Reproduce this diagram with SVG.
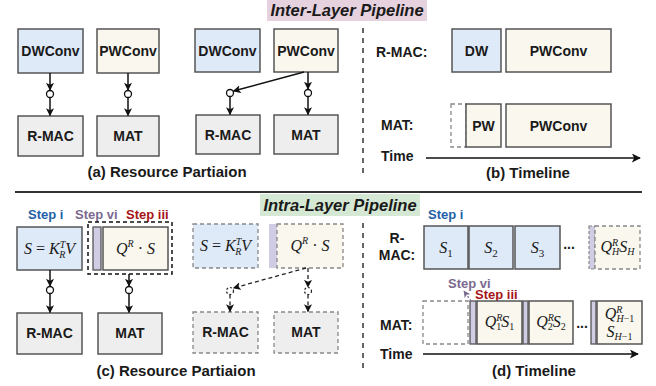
<svg xmlns="http://www.w3.org/2000/svg" width="656" height="386" viewBox="0 0 656 386">
<style>
.lbl{font-family:"Liberation Sans",Arial,sans-serif;font-weight:bold;font-size:14px;fill:#1a1a1a;text-anchor:middle}
.lbs{font-family:"Liberation Sans",Arial,sans-serif;font-weight:bold;font-size:14px;fill:#1a1a1a}
.cap{font-family:"Liberation Sans",Arial,sans-serif;font-weight:bold;font-size:15px;fill:#1a1a1a;text-anchor:middle}
.ttl{font-family:"Liberation Sans",Arial,sans-serif;font-weight:bold;font-style:italic;font-size:16.5px;fill:#1a1a1a;text-anchor:middle}
.step{font-family:"Liberation Sans",Arial,sans-serif;font-weight:bold;font-size:13px}
.math{font-family:"Liberation Serif","Times New Roman",serif;font-style:italic;font-size:16px;fill:#1a1a1a;text-anchor:middle}
.up{font-style:normal}
.blue{fill:#dfeaf9;stroke:#555;stroke-width:1.5}
.beige{fill:#f9f7ee;stroke:#555;stroke-width:1.5}
.gray{fill:#eeeeee;stroke:#555;stroke-width:1.5}
.bar{fill:#cfcce3;stroke:#555;stroke-width:1.3}
.dash{stroke:#888;stroke-width:1.3;stroke-dasharray:4 3}
.conn{stroke:#111;stroke-width:1.5;fill:none}
.dconn{stroke:#222;stroke-width:1.3;fill:none;stroke-dasharray:4 3}
.dot{fill:#fff;stroke:#111;stroke-width:1.3}
.vdash{stroke:#333;stroke-width:1.5;stroke-dasharray:5 5}
</style>
<defs>
<marker id="ah" viewBox="0 0 10 10" refX="9" refY="5" markerWidth="8" markerHeight="8" orient="auto" markerUnits="userSpaceOnUse">
<path d="M0,0 L10,5 L0,10 L2.5,5 z" fill="#111"/>
</marker>
<marker id="ahb" viewBox="0 0 10 10" refX="9" refY="5" markerWidth="9" markerHeight="9" orient="auto" markerUnits="userSpaceOnUse">
<path d="M0,0 L10,5 L0,10 L2.5,5 z" fill="#111"/>
</marker>
<marker id="ahp" viewBox="0 0 10 10" refX="9" refY="5" markerWidth="7" markerHeight="7" orient="auto" markerUnits="userSpaceOnUse">
<path d="M0,0 L10,5 L0,10 L2.5,5 z" fill="#7b6a8f"/>
</marker>
</defs>
<rect width="656" height="386" fill="#fff"/>

<!-- banners -->
<g id="inter-title">
<rect x="267" y="0" width="160" height="21" fill="#e6d1de"/>
<text class="ttl" x="347" y="16">Inter-Layer Pipeline</text>
</g>
<g id="intra-title">
<rect x="260" y="194" width="160" height="22" fill="#d5e8d4"/>
<text class="ttl" x="340" y="211">Intra-Layer Pipeline</text>
</g>

<!-- dividers -->
<g id="dividers">
<line x1="15" y1="192" x2="642" y2="192" stroke="#333" stroke-width="2"/>
<line class="vdash" x1="363" y1="28" x2="363" y2="176"/>
<line class="vdash" x1="363" y1="223" x2="363" y2="368"/>
</g>

<!-- (a) -->
<g id="a-dwconv"><rect class="blue" x="18" y="29" width="65" height="44"/><text class="lbl" x="50.5" y="56">DWConv</text></g>
<g id="a-pwconv"><rect class="beige" x="97" y="29" width="62" height="44"/><text class="lbl" x="128" y="56">PWConv</text></g>
<g id="a-rmac"><rect class="gray" x="18" y="116" width="65" height="40"/><text class="lbl" x="50.5" y="141">R-MAC</text></g>
<g id="a-mat"><rect class="gray" x="97" y="116" width="62" height="40"/><text class="lbl" x="128" y="141">MAT</text></g>
<g id="a2-dwconv"><rect class="blue" x="195" y="29" width="65" height="43"/><text class="lbl" x="227.5" y="56">DWConv</text></g>
<g id="a2-pwconv"><rect class="beige" x="274" y="29" width="64" height="43"/><text class="lbl" x="306" y="56">PWConv</text></g>
<g id="a2-rmac"><rect class="gray" x="196" y="115" width="64" height="39"/><text class="lbl" x="228" y="140">R-MAC</text></g>
<g id="a2-mat"><rect class="gray" x="274" y="115" width="64" height="39"/><text class="lbl" x="306" y="140">MAT</text></g>
<text class="cap" x="167" y="177">(a) Resource Partiaion</text>

<!-- (b) -->
<text class="lbs" x="376" y="57">R-MAC:</text>
<text class="lbs" x="381" y="130">MAT:</text>
<text class="lbs" x="381" y="161">Time</text>
<g id="b-dw"><rect class="blue" x="452" y="29" width="49" height="43"/><text class="lbl" x="476.5" y="56">DW</text></g>
<g id="b-pwconv1"><rect class="beige" x="506" y="29" width="105" height="43"/><text class="lbl" x="558.5" y="56">PWConv</text></g>
<g id="b-empty"><rect class="dash" fill="#fff" x="451" y="104" width="15" height="43"/></g>
<g id="b-pw"><rect class="beige" x="466" y="104" width="35" height="43"/><text class="lbl" x="483.5" y="131">PW</text></g>
<g id="b-pwconv2"><rect class="beige" x="506" y="104" width="105" height="43"/><text class="lbl" x="558.5" y="131">PWConv</text></g>
<text class="cap" x="528" y="178">(b) Timeline</text>

<!-- (c) -->
<text class="step" x="28" y="219" fill="#1f5fa8">Step i</text>
<text class="step" x="75" y="219" fill="#7b6a8f">Step vi</text>
<text class="step" x="126" y="219" fill="#a51518">Step iii</text>
<g id="c-s"><rect class="blue" x="17" y="227" width="65" height="43"/>
<text class="math" x="49.5" y="254">S <tspan class="up">=</tspan> K<tspan font-size="10" dy="-6">T</tspan><tspan font-size="10" dx="-6" dy="10">R</tspan><tspan dy="-4">V</tspan></text></g>
<g id="c-group"><rect x="88" y="222" width="84" height="52" fill="none" stroke="#111" stroke-width="1.5" stroke-dasharray="4 3"/>
<rect class="bar" x="93" y="227" width="8" height="43"/>
<rect class="beige" x="103" y="227" width="65" height="43"/>
<text class="math" x="135.5" y="254">Q<tspan font-size="10" dy="-7">R</tspan><tspan dy="7" class="up"> · </tspan>S</text></g>
<g id="c-rmac"><rect class="gray" x="17" y="313" width="65" height="41"/><text class="lbl" x="49.5" y="338">R-MAC</text></g>
<g id="c-mat"><rect class="gray" x="98" y="313" width="64" height="41"/><text class="lbl" x="130" y="338">MAT</text></g>
<g id="c2-s"><rect class="dash" fill="#dfeaf9" x="193" y="224" width="65" height="44"/>
<text class="math" x="225.5" y="251">S <tspan class="up">=</tspan> K<tspan font-size="10" dy="-6">T</tspan><tspan font-size="10" dx="-6" dy="10">R</tspan><tspan dy="-4">V</tspan></text></g>
<g id="c2-q"><rect x="269" y="224" width="8" height="44" fill="#cfcce3"/>
<rect class="dash" fill="#f9f7ee" x="277" y="224" width="66" height="44"/>
<text class="math" x="310" y="251">Q<tspan font-size="10" dy="-7">R</tspan><tspan dy="7" class="up"> · </tspan>S</text></g>
<g id="c2-rmac"><rect class="dash" fill="#eeeeee" x="193" y="312" width="65" height="41"/><text class="lbl" x="225.5" y="337">R-MAC</text></g>
<g id="c2-mat"><rect class="dash" fill="#eeeeee" x="274" y="312" width="64" height="41"/><text class="lbl" x="306" y="337">MAT</text></g>
<text class="cap" x="176" y="376">(c) Resource Partiaion</text>

<!-- (d) -->
<text class="step" x="428" y="219" fill="#1f5fa8">Step i</text>
<text class="lbl" x="397" y="243">R-</text>
<text class="lbl" x="397" y="260">MAC:</text>
<text class="lbs" x="380" y="330">MAT:</text>
<text class="lbs" x="380" y="359">Time</text>
<g id="d-s1"><rect class="blue" x="424" y="226" width="44" height="43"/><text class="math" x="446" y="253">S<tspan class="up" font-size="11" dy="4">1</tspan></text></g>
<g id="d-s2"><rect class="blue" x="469" y="226" width="44" height="43"/><text class="math" x="491" y="253">S<tspan class="up" font-size="11" dy="4">2</tspan></text></g>
<g id="d-s3"><rect class="blue" x="515" y="226" width="45" height="43"/><text class="math" x="537.5" y="253">S<tspan class="up" font-size="11" dy="4">3</tspan></text></g>
<text class="lbl" x="569" y="249">...</text>
<g id="d-qh"><rect x="589" y="226" width="6" height="43" fill="#cfcce3" stroke="#888" stroke-width="1.2" stroke-dasharray="3 2"/>
<rect class="dash" fill="#f9f7ee" x="595" y="226" width="45" height="43"/>
<text class="math" x="617.5" y="252" font-size="15">Q<tspan font-size="10" dy="-6">R</tspan><tspan font-size="10" dx="-6" dy="9">H</tspan><tspan dy="-3">S</tspan><tspan font-size="10" dy="3">H</tspan></text></g>
<text class="step" x="448" y="288" fill="#7b6a8f">Step vi</text>
<text class="step" x="475" y="299" fill="#a51518">Step iii</text>
<g id="d-empty"><rect class="dash" fill="#fff" x="423" y="301" width="45" height="43"/></g>
<g id="d-q1"><rect class="bar" x="470" y="301" width="6" height="43"/><rect class="beige" x="477" y="301" width="45" height="43"/>
<text class="math" x="499.5" y="327" font-size="15">Q<tspan font-size="10" dy="-6">R</tspan><tspan class="up" font-size="10" dx="-6" dy="9">1</tspan><tspan dy="-3">S</tspan><tspan class="up" font-size="10" dy="3">1</tspan></text></g>
<g id="d-q2"><rect class="bar" x="523" y="301" width="5" height="43"/><rect class="beige" x="529" y="301" width="44" height="43"/>
<text class="math" x="551" y="327" font-size="15">Q<tspan font-size="10" dy="-6">R</tspan><tspan class="up" font-size="10" dx="-6" dy="9">2</tspan><tspan dy="-3">S</tspan><tspan class="up" font-size="10" dy="3">2</tspan></text></g>
<text class="lbl" x="582" y="328">...</text>
<g id="d-qh1"><rect class="bar" x="591" y="301" width="5" height="43"/><rect class="beige" x="597" y="301" width="45" height="43"/>
<text class="math" x="619.5" y="319" font-size="15">Q<tspan font-size="10" dy="-6">R</tspan><tspan font-size="10" dx="-6" dy="9">H<tspan class="up">−1</tspan></tspan></text>
<text class="math" x="619.5" y="337" font-size="15">S<tspan font-size="10" dy="3">H<tspan class="up">−1</tspan></tspan></text></g>
<text class="cap" x="534" y="376">(d) Timeline</text>

<!-- connectors -->
<g id="connectors">
<line class="conn" x1="50" y1="73" x2="50" y2="90" marker-end="url(#ah)"/>
<circle class="dot" cx="50" cy="94" r="3.5"/>
<line class="conn" x1="50" y1="97.5" x2="50" y2="115.5" marker-end="url(#ah)"/>
<line class="conn" x1="128" y1="73" x2="128" y2="90" marker-end="url(#ah)"/>
<circle class="dot" cx="128" cy="94" r="3.5"/>
<line class="conn" x1="128" y1="97.5" x2="128" y2="115.5" marker-end="url(#ah)"/>

<line class="conn" x1="304" y1="72" x2="233.5" y2="91" marker-end="url(#ah)"/>
<circle class="dot" cx="230" cy="93" r="3.5"/>
<line class="conn" x1="230" y1="96.5" x2="230" y2="114.5" marker-end="url(#ah)"/>
<line class="conn" x1="308" y1="72" x2="308" y2="89" marker-end="url(#ah)"/>
<circle class="dot" cx="308" cy="93" r="3.5"/>
<line class="conn" x1="308" y1="96.5" x2="308" y2="114.5" marker-end="url(#ah)"/>

<line class="conn" x1="50" y1="270" x2="50" y2="286" marker-end="url(#ah)"/>
<circle class="dot" cx="50" cy="290" r="3.5"/>
<line class="conn" x1="50" y1="293.5" x2="50" y2="312.5" marker-end="url(#ah)"/>
<line class="conn" x1="129" y1="274" x2="129" y2="286" marker-end="url(#ah)"/>
<circle class="dot" cx="129" cy="290" r="3.5"/>
<line class="conn" x1="129" y1="293.5" x2="129" y2="312.5" marker-end="url(#ah)"/>

<line class="dconn" x1="306" y1="268" x2="233.5" y2="288" marker-end="url(#ah)"/>
<circle cx="230" cy="291" r="3.5" fill="#fff" stroke="#222" stroke-width="1.2" stroke-dasharray="2 2"/>
<line class="dconn" x1="230" y1="294.5" x2="230" y2="311.5" marker-end="url(#ah)"/>
<line class="dconn" x1="308" y1="268" x2="308" y2="287" marker-end="url(#ah)"/>
<circle cx="308" cy="291" r="3.5" fill="#fff" stroke="#222" stroke-width="1.2" stroke-dasharray="2 2"/>
<line class="dconn" x1="308" y1="294.5" x2="308" y2="311.5" marker-end="url(#ah)"/>

<line class="conn" x1="426" y1="158" x2="640" y2="158" marker-end="url(#ahb)"/>
<line class="conn" x1="423" y1="354" x2="638" y2="354" marker-end="url(#ahb)"/>
<line x1="471" y1="301" x2="464" y2="291" stroke="#7b6a8f" stroke-width="1.3" stroke-dasharray="2 2" marker-end="url(#ahp)"/>
</g>
</svg>
